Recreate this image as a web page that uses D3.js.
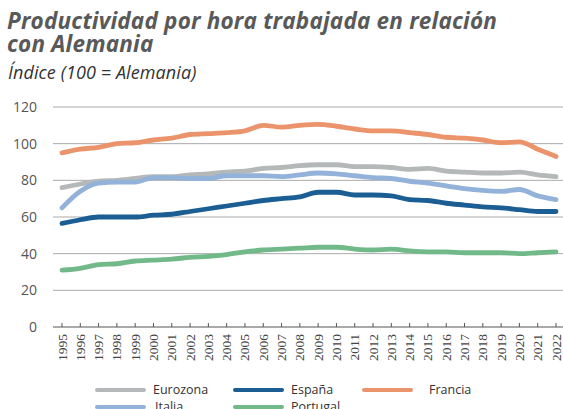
<!DOCTYPE html>
<html>
<head>
<meta charset="utf-8">
<script src="https://cdn.jsdelivr.net/npm/d3@7"></script>
<style>
  body { margin: 0; background: #fff; }
  svg { display: block; }
</style>
</head>
<body>
<div id="chart"></div>
<script>
// Data
const years = d3.range(1995, 2023);
const eurozona = [76, 78, 79.5, 80, 81, 82, 82, 83, 83.5, 84.5, 85, 86.5, 87, 88, 88.5, 88.5, 87.5, 87.5, 87, 86, 86.5, 85, 84.5, 84, 84, 84.5, 83, 82];
const espana   = [56.5, 58.5, 60, 60, 60, 61, 61.5, 63, 64.5, 66, 67.5, 69, 70, 71, 73.5, 73.5, 72, 72, 71.5, 69.5, 69, 67.5, 66.5, 65.5, 65, 64, 63, 63];
const francia  = [95, 97, 98, 100, 100.5, 102, 103, 105, 105.5, 106, 107, 110, 109, 110, 110.5, 109.5, 108, 107, 107, 106, 105, 103.5, 103, 102, 100.5, 101, 97, 93];
const italia   = [65, 74, 78.5, 79, 79, 81.5, 81.5, 81, 81, 82.5, 82.5, 82.5, 82, 83, 84, 83.5, 82.5, 81.5, 81, 79.5, 78.5, 77, 75.5, 74.5, 74, 75, 71.5, 69.5];
const portugal = [31, 32, 34, 34.5, 36, 36.5, 37, 38, 38.5, 39.5, 41, 42, 42.5, 43, 43.5, 43.5, 42.5, 42, 42.5, 41.5, 41, 41, 40.5, 40.5, 40.5, 40, 40.5, 41];
const yTicks = [0, 20, 40, 60, 80, 100, 120];

const series = [
  { name: "Eurozona", values: eurozona, color: "#b4b8b8" },
  { name: "Italia", values: italia, color: "#92b2da" },
  { name: "Portugal", values: portugal, color: "#72b98a" },
  { name: "España", values: espana, color: "#1b5e94" },
  { name: "Francia", values: francia, color: "#eb946c" }
];

const width = 563, height = 409;
const svg = d3.select("#chart").append("svg")
  .attr("width", width)
  .attr("height", height);

// titles
const titleStyle = sel => sel
  .attr("fill", "#595959")
  .style("font-family", "'Open Sans', sans-serif")
  .style("font-weight", "bold")
  .style("font-style", "italic")
  .style("font-size", "22.5px")
  .style("letter-spacing", "0.2px");
svg.append("text")
  .attr("x", 7).attr("y", 29)
  .call(titleStyle)
  .text("Productividad por hora trabajada en relación");
svg.append("text")
  .attr("x", 7).attr("y", 52)
  .call(titleStyle)
  .text("con Alemania");
svg.append("text")
  .attr("x", 8).attr("y", 79)
  .attr("fill", "#333")
  .style("font-family", "'Open Sans', sans-serif")
  .style("font-style", "italic")
  .style("font-size", "18px")
  .style("letter-spacing", "0.1px")
  .text("Índice (100 = Alemania)");

const x = d3.scaleLinear().domain([1995, 2022]).range([62, 556]);
const y = d3.scaleLinear().domain([0, 120]).range([327, 107]);

// gridlines
svg.append("g")
  .selectAll("line")
  .data(yTicks.filter(d => d > 0))
  .join("line")
  .attr("x1", 53).attr("x2", width)
  .attr("y1", d => y(d)).attr("y2", d => y(d))
  .attr("stroke", "#aaa")
  .attr("stroke-width", 1);

// y labels
svg.append("g")
  .selectAll("text")
  .data(yTicks)
  .join("text")
  .attr("x", 37)
  .attr("y", d => y(d))
  .attr("dy", "0.35em")
  .attr("text-anchor", "end")
  .attr("fill", "#555")
  .style("font-family", "'Open Sans', sans-serif")
  .style("font-size", "14px")
  .text(d => d);

// x axis
const xAxis = svg.append("g");
xAxis.append("line")
  .attr("x1", 53).attr("x2", width)
  .attr("y1", y(0)).attr("y2", y(0))
  .attr("stroke", "#555").attr("stroke-width", 1);
xAxis.selectAll(".tick")
  .data(years)
  .join("line")
  .attr("x1", d => x(d)).attr("x2", d => x(d))
  .attr("y1", y(0)).attr("y2", y(0) - 4)
  .attr("stroke", "#555");
xAxis.selectAll("text")
  .data(years)
  .join("text")
  .attr("transform", d => `translate(${x(d) + 4.5},${y(0) + 7}) rotate(-90)`)
  .attr("text-anchor", "end")
  .attr("fill", "#444")
  .style("font-family", "'Liberation Serif', serif")
  .style("font-size", "13.5px")
  .text(d => d);

// lines
const line = d3.line()
  .x((d, i) => x(years[i]))
  .y(d => y(d))
  .curve(d3.curveMonotoneX);

svg.append("g")
  .selectAll("path")
  .data(series)
  .join("path")
  .attr("d", d => line(d.values))
  .attr("fill", "none")
  .attr("stroke", d => d.color)
  .attr("stroke-width", 4.8)
  .attr("stroke-linejoin", "round")
  .attr("stroke-linecap", "round");

// legend
const legendItems = [
  { name: "Eurozona", color: "#b4b8b8", lx: 97, ly: 390, tx: 56 },
  { name: "España", color: "#1b5e94", lx: 235, ly: 390, tx: 56 },
  { name: "Francia", color: "#eb946c", lx: 364, ly: 390, tx: 65 },
  { name: "Italia", color: "#92b2da", lx: 97, ly: 407, tx: 58 },
  { name: "Portugal", color: "#72b98a", lx: 235, ly: 407, tx: 56 }
];
const lg = svg.append("g")
  .selectAll("g")
  .data(legendItems)
  .join("g")
  .attr("transform", d => `translate(${d.lx},${d.ly})`);
lg.append("line")
  .attr("x1", 0).attr("x2", 47)
  .attr("stroke", d => d.color)
  .attr("stroke-width", 4)
  .attr("stroke-linecap", "round");
lg.append("text")
  .attr("x", d => d.tx)
  .attr("dy", "0.35em")
  .attr("fill", "#333")
  .style("font-family", "'Open Sans', sans-serif")
  .style("font-size", "12.5px")
  .text(d => d.name);
</script>
</body>
</html>
